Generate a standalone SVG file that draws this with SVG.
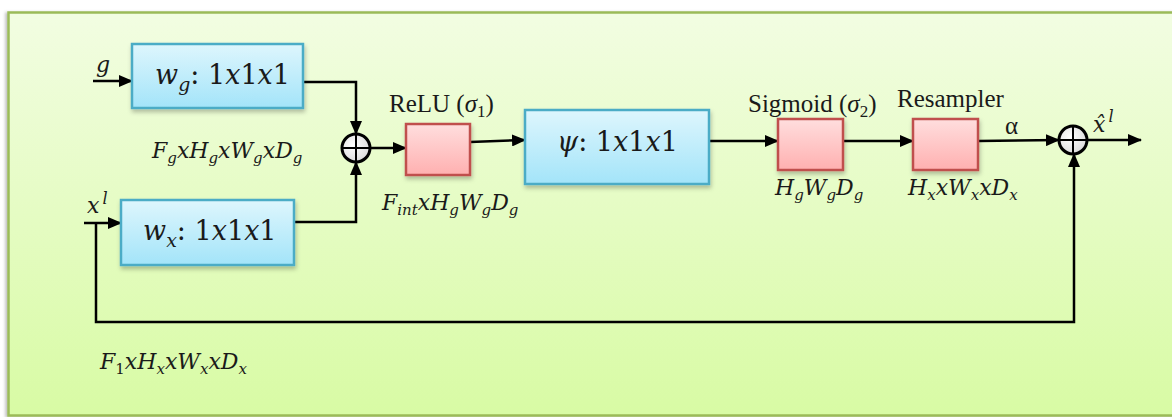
<svg xmlns="http://www.w3.org/2000/svg" width="1172" height="417" viewBox="0 0 1172 417">
<defs>
<linearGradient id="bg" x1="0" y1="0" x2="0" y2="1"><stop offset="0" stop-color="#F2FDE2"/><stop offset="1" stop-color="#D8FBA4"/></linearGradient>
<linearGradient id="blue" x1="0" y1="0" x2="0" y2="1"><stop offset="0" stop-color="#DEF6FD"/><stop offset="1" stop-color="#A3E4F9"/></linearGradient>
<linearGradient id="pink" x1="0" y1="0" x2="0" y2="1"><stop offset="0" stop-color="#FFDEDE"/><stop offset="1" stop-color="#FFB0B0"/></linearGradient>
<radialGradient id="sumfill" cx="0.4" cy="0.4" r="0.7"><stop offset="0" stop-color="#FFFFFF"/><stop offset="1" stop-color="#D8D8D8"/></radialGradient>
<filter id="sh" x="-10%" y="-10%" width="130%" height="140%"><feDropShadow dx="1" dy="3" stdDeviation="2" flood-color="#000" flood-opacity="0.25"/></filter>
<filter id="bgsh" x="-2%" y="-2%" width="104%" height="104%"><feDropShadow dx="-2" dy="1" stdDeviation="1.5" flood-color="#000" flood-opacity="0.25"/></filter>
<marker id="ah" markerWidth="14" markerHeight="12" refX="13" refY="6" orient="auto" markerUnits="userSpaceOnUse"><path d="M0,0 L14,6 L0,12 Z" fill="#000"/></marker>
<style>
.bbox{fill:url(#blue);stroke:#4BACC6;stroke-width:2.5;filter:url(#sh)}
.pbox{fill:url(#pink);stroke:#C0504D;stroke-width:2.5;filter:url(#sh)}
.arr{fill:none;stroke:#000;stroke-width:2.5;marker-end:url(#ah)}
.math{font-family:"DejaVu Serif","Liberation Serif",serif;font-style:italic;font-size:22px;fill:#1a1a1a}
.lbl{font-family:"Liberation Serif","DejaVu Serif",serif;font-size:25px;fill:#1a1a1a}
.boxt{font-family:"DejaVu Serif","Liberation Serif",serif;font-size:27px;fill:#1a1a1a}
.it{font-style:italic}
.rm{font-style:normal}
.sum circle{fill:url(#sumfill);stroke:#000;stroke-width:3}
.sum line{stroke:#000;stroke-width:2}
</style>
</defs>
<rect width="1172" height="417" fill="#FFFFFF"/>
<rect x="8.5" y="12.5" width="1170" height="403" fill="url(#bg)" stroke="#9BBB59" stroke-width="2.5" filter="url(#bgsh)"/>

<g id="connectors">
<line class="arr" x1="93" y1="81" x2="132" y2="81"/>
<line class="arr" x1="84" y1="223" x2="121" y2="223"/>
<polyline class="arr" points="303,82 356,82 356,134"/>
<polyline class="arr" points="294,222 356,222 356,162"/>
<line class="arr" x1="370" y1="148" x2="406" y2="148"/>
<line class="arr" x1="470" y1="142" x2="525" y2="140"/>
<line class="arr" x1="709" y1="141" x2="778" y2="141"/>
<line class="arr" x1="843" y1="141" x2="913" y2="141"/>
<line class="arr" x1="978" y1="141" x2="1059" y2="140"/>
<line class="arr" x1="1087" y1="140" x2="1141" y2="140"/>
<polyline class="arr" points="96,223 96,322 1074,322 1074,154"/>
</g>

<g id="node-wg">
<rect class="bbox" x="132" y="44" width="171" height="64"/>
<text class="boxt" x="155" y="84"><tspan class="it">w</tspan><tspan class="it" font-size="19" dy="7">g</tspan><tspan dy="-7">: 1</tspan><tspan class="it">x</tspan><tspan>1</tspan><tspan class="it">x</tspan><tspan>1</tspan></text>
</g>

<g id="node-wx">
<rect class="bbox" x="121" y="200" width="173" height="65"/>
<text class="boxt" x="143" y="240"><tspan class="it">w</tspan><tspan class="it" font-size="19" dy="7">x</tspan><tspan dy="-7">: 1</tspan><tspan class="it">x</tspan><tspan>1</tspan><tspan class="it">x</tspan><tspan>1</tspan></text>
</g>

<g id="node-sum1" class="sum">
<circle cx="356" cy="148" r="14"/>
<line x1="342" y1="148" x2="370" y2="148"/><line x1="356" y1="134" x2="356" y2="162"/>
</g>

<g id="node-relu">
<rect class="pbox" x="406" y="124" width="64" height="51"/>
<text class="lbl" x="389" y="112">ReLU (<tspan class="it">σ</tspan><tspan font-size="17" dy="5">1</tspan><tspan dy="-5">)</tspan></text>
</g>

<g id="node-psi">
<rect class="bbox" x="525" y="110" width="184" height="74"/>
<text class="boxt" x="557" y="151"><tspan class="it">ψ</tspan><tspan>: 1</tspan><tspan class="it">x</tspan><tspan>1</tspan><tspan class="it">x</tspan><tspan>1</tspan></text>
</g>

<g id="node-sigmoid">
<rect class="pbox" x="778" y="119" width="65" height="51"/>
<text class="lbl" x="748" y="112">Sigmoid (<tspan class="it">σ</tspan><tspan font-size="17" dy="5">2</tspan><tspan dy="-5">)</tspan></text>
</g>

<g id="node-resampler">
<rect class="pbox" x="913" y="119" width="65" height="51"/>
<text class="lbl" x="897" y="107">Resampler</text>
</g>

<g id="node-sum2" class="sum">
<circle cx="1073" cy="140" r="14"/>
<line x1="1059" y1="140" x2="1087" y2="140"/><line x1="1073" y1="126" x2="1073" y2="154"/>
</g>

<g id="labels">
<text class="math" x="96" y="72">g</text>
<text class="math" x="87" y="213">x<tspan font-size="16" dx="3" dy="-9">l</tspan></text>
<text class="math" x="152" y="158">F<tspan font-size="15" dy="5">g</tspan><tspan dy="-5">xH</tspan><tspan font-size="15" dy="5">g</tspan><tspan dy="-5">xW</tspan><tspan font-size="15" dy="5">g</tspan><tspan dy="-5">xD</tspan><tspan font-size="15" dy="5">g</tspan></text>
<text class="math" x="382" y="210">F<tspan font-size="15" dy="5">int</tspan><tspan dy="-5">xH</tspan><tspan font-size="15" dy="5">g</tspan><tspan dy="-5">W</tspan><tspan font-size="15" dy="5">g</tspan><tspan dy="-5">D</tspan><tspan font-size="15" dy="5">g</tspan></text>
<text class="math" x="775" y="195">H<tspan font-size="15" dy="5">g</tspan><tspan dy="-5">W</tspan><tspan font-size="15" dy="5">g</tspan><tspan dy="-5">D</tspan><tspan font-size="15" dy="5">g</tspan></text>
<text class="math" x="908" y="195">H<tspan font-size="15" dy="5">x</tspan><tspan dy="-5">xW</tspan><tspan font-size="15" dy="5">x</tspan><tspan dy="-5">xD</tspan><tspan font-size="15" dy="5">x</tspan></text>
<text class="lbl" x="1005" y="134" font-size="27">α</text>
<text class="math" x="1093" y="132">x̂<tspan font-size="16" dx="3" dy="-10">l</tspan></text>
<text class="math" x="100" y="369">F<tspan font-size="15" dy="5" class="rm">1</tspan><tspan dy="-5">xH</tspan><tspan font-size="15" dy="5">x</tspan><tspan dy="-5">xW</tspan><tspan font-size="15" dy="5">x</tspan><tspan dy="-5">xD</tspan><tspan font-size="15" dy="5">x</tspan></text>
</g>
</svg>
